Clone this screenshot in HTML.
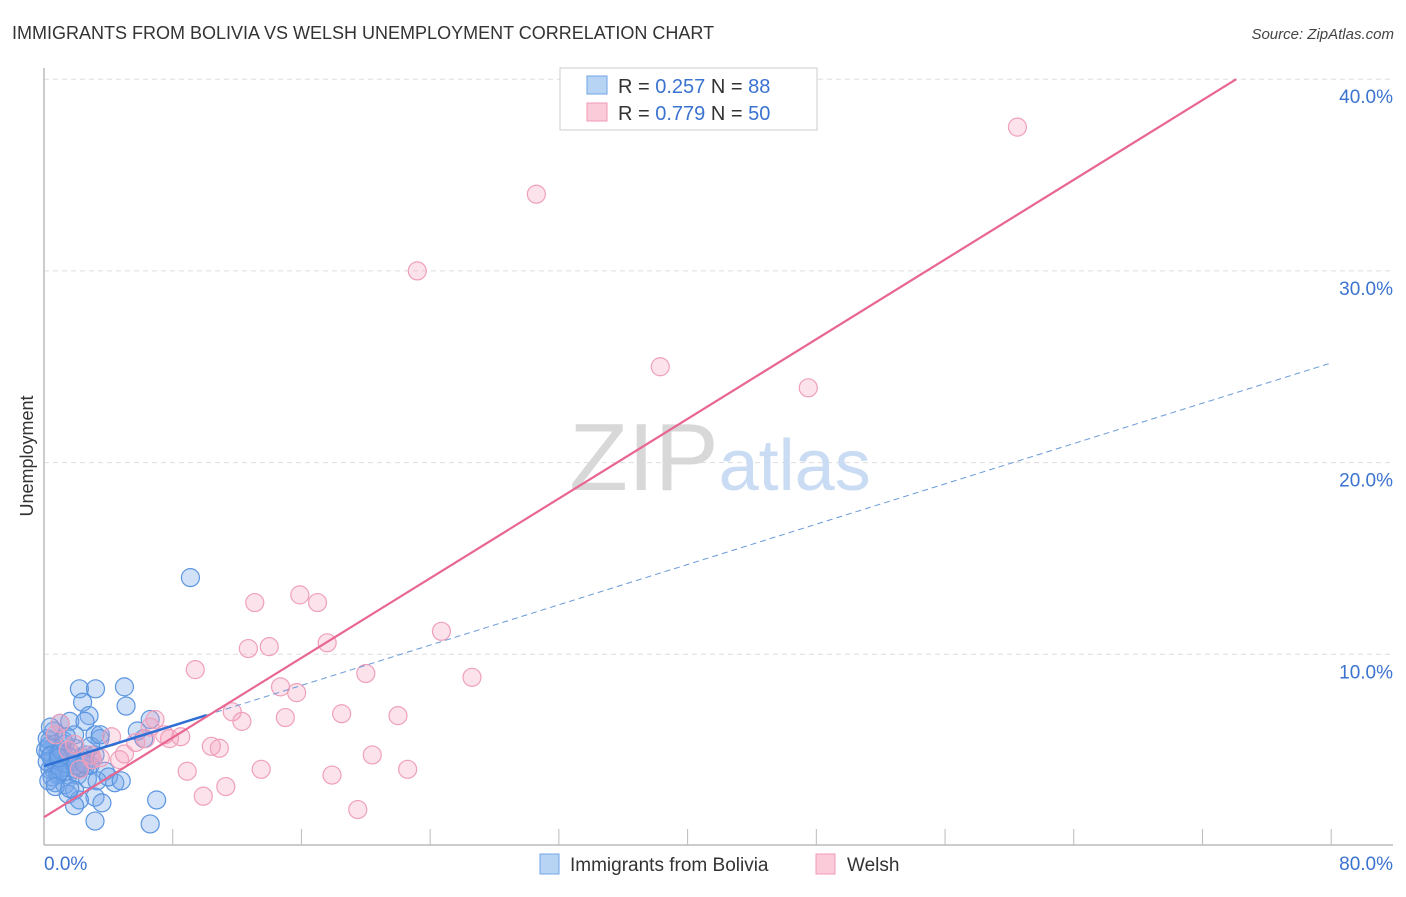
<!DOCTYPE html>
<html><head><meta charset="utf-8"><style>
body{margin:0;background:#fff;font-family:"Liberation Sans",sans-serif;}
svg text{font-family:"Liberation Sans",sans-serif;}
</style></head><body>
<svg id="chart" width="1406" height="892" xmlns="http://www.w3.org/2000/svg">
<text x="12" y="39" font-size="18" fill="#333">IMMIGRANTS FROM BOLIVIA VS WELSH UNEMPLOYMENT CORRELATION CHART</text>
<text x="1394" y="39" font-size="15" fill="#444" font-style="italic" text-anchor="end">Source: ZipAtlas.com</text>
<text transform="translate(33,456) rotate(-90)" font-size="18" fill="#333" text-anchor="middle">Unemployment</text>
<g id="grid"></g>
<text x="720" y="490" font-size="96" text-anchor="middle" fill="#ddd" font-family="Liberation Serif"><tspan fill="#d8d8d8">ZIP</tspan><tspan fill="#c9dcf3" font-family="Liberation Sans" font-size="72">atlas</tspan></text>
<g id="marks"></g>
<g>
<rect x="560" y="68" width="257" height="62" fill="#fff" stroke="#ccc"/>
<rect x="587" y="76" width="20" height="18" fill="#b8d4f5" stroke="#6fa3e6"/>
<text x="618" y="93" font-size="20" fill="#333">R = <tspan fill="#3b73d0">0.257</tspan>   N = <tspan fill="#3b73d0">88</tspan></text>
<rect x="587" y="103" width="20" height="18" fill="#fbcbd9" stroke="#f09ab6"/>
<text x="618" y="120" font-size="20" fill="#333">R = <tspan fill="#3b73d0">0.779</tspan>   N = <tspan fill="#3b73d0">50</tspan></text>
</g>
<g>
<rect x="540" y="854" width="19" height="20" fill="#b8d4f5" stroke="#6fa3e6"/>
<text x="570" y="871" font-size="19" fill="#333">Immigrants from Bolivia</text>
<rect x="816" y="854" width="19" height="20" fill="#fbcbd9" stroke="#f09ab6"/>
<text x="847" y="871" font-size="19" fill="#333">Welsh</text>
</g>
</svg>
<script>
const yTicks=[10,20,30,40];
const yTickLabels=["10.0%","20.0%","30.0%","40.0%"];
const xTickLabels=["0.0%","80.0%"];
const boliviaX=[9.1,2.2,3.2,5.0,2.4,5.1,2.8,6.6,1.0,1.6,2.55,1.9,3.17,3.48,0.37,0.68,1.3,1.9,0.25,1.0,1.6,2.55,3.17,0.5,1.1,1.7,2.3,2.86,3.8,0.37,0.85,1.5,2.1,2.7,3.3,4.4,0.7,1.3,1.9,1.5,3.17,2.2,3.6,1.9,7.0,3.17,6.6,1.0,0.1,1.3,0.2,0.5,0.8,1.2,1.8,2.4,0.3,0.6,0.9,1.4,2.0,2.6,3.0,4.0,0.2,0.4,0.9,1.1,1.7,2.3,2.9,0.5,1.0,1.5,0.3,0.7,1.2,3.5,4.8,0.6,1.4,2.0,0.4,2.5,6.2,5.8,1.6,0.9];
const boliviaY=[14.0,8.2,8.2,8.3,7.5,7.3,6.8,6.6,6.4,6.5,6.5,5.8,5.8,5.6,5.5,5.3,5.3,5.1,4.9,4.9,4.9,4.75,4.75,4.5,4.5,4.4,4.4,4.2,3.9,4.0,3.7,3.7,3.7,3.5,3.4,3.3,3.3,3.2,2.9,2.7,2.55,2.4,2.25,2.1,2.4,1.3,1.15,4.2,5.0,4.6,5.6,4.8,4.3,4.1,4.4,4.6,5.2,4.0,3.8,4.3,4.0,4.2,4.5,3.6,4.4,4.7,4.8,5.0,4.6,4.1,5.2,3.6,3.9,4.7,3.4,3.1,5.5,5.8,3.4,6.0,5.7,4.2,6.2,4.3,5.6,6.0,3.0,4.6];
const welshX=[60.5,30.6,23.2,38.3,47.5,13.1,15.9,17.0,24.7,17.6,12.7,14.0,9.4,20.0,26.6,14.7,15.7,11.7,18.5,22.0,12.3,15.0,6.9,10.4,10.9,20.4,8.9,13.5,17.9,22.6,9.9,11.3,19.5,8.5,7.8,7.5,5.7,4.2,4.7,3.5,1.0,0.7,2.9,1.9,2.2,6.6,6.3,3.0,5.0,1.5];
const welshY=[37.5,34.0,30.0,25.0,23.9,12.7,13.1,12.7,11.2,10.6,10.3,10.4,9.2,9.0,8.8,8.3,8.0,7.0,6.9,6.8,6.5,6.7,6.6,5.2,5.1,4.75,3.9,4.0,3.7,4.0,2.6,3.1,1.9,5.7,5.6,5.8,5.4,5.7,4.5,4.6,6.4,5.8,4.75,5.3,4.0,6.2,5.6,4.5,4.8,5.0];
const boliviaTrend=[0,4.17,10.1,6.95,80,25.2];
const welshTrend=[0,1.5,74.1,40];
const NS="http://www.w3.org/2000/svg";
const X=v=>44+v*16.09, Y=v=>846-v*19.17;
const grid=document.getElementById('grid'), marks=document.getElementById('marks');
function mk(p,tag,a){const e=document.createElementNS(NS,tag);for(const k in a)e.setAttribute(k,a[k]);p.appendChild(e);return e;}
yTicks.forEach((t,i)=>{
 const l=mk(grid,'line',{x1:44,x2:1393,y1:Y(t),y2:Y(t),stroke:'#ddd','stroke-dasharray':'5,4'});
 
 
 const tx=mk(grid,'text',{x:1393,y:Y(t)+24,'font-size':19,fill:'#3b73d0','text-anchor':'end'});tx.textContent=yTickLabels[i];
 
 
});
const ax=mk(grid,'line',{x1:44,x2:1393,y1:845,y2:845,stroke:'#bbb','stroke-width':1.5});


const ay=mk(grid,'line',{x1:44,x2:44,y1:68,y2:845,stroke:'#bbb','stroke-width':1.5});


for(let i=1;i<=10;i++){const t=mk(grid,'line',{x1:X(i*8),x2:X(i*8),y1:829,y2:845,stroke:'#bbb'});
 
 }
[[xTickLabels[0],44,'start'],[xTickLabels[1],1393,'end']].forEach(([s,x,a])=>{const t=mk(grid,'text',{x:x,y:870,'font-size':19,fill:'#3b73d0','text-anchor':a});t.textContent=s;
 
 });
boliviaX.forEach((v,i)=>{const c=mk(marks,'circle',{cx:X(v),cy:Y(boliviaY[i]),r:9,fill:'rgba(120,170,235,0.35)',stroke:'#5b95e0','stroke-width':1.2});
 
 });
welshX.forEach((v,i)=>{const c=mk(marks,'circle',{cx:X(v),cy:Y(welshY[i]),r:9,fill:'rgba(245,160,190,0.3)',stroke:'#efa0ba','stroke-width':1.2});
 
 });
const b=boliviaTrend;
const bs=mk(marks,'line',{x1:X(b[0]),y1:Y(b[1]),x2:X(b[2]),y2:Y(b[1]+(b[5]-b[1])*b[2]/b[4]),stroke:'#2e6fd6','stroke-width':2.5});


const bd=mk(marks,'line',{x1:X(b[2]),y1:Y(b[1]+(b[5]-b[1])*b[2]/b[4]),x2:X(b[4]),y2:Y(b[5]),stroke:'#6a9ad8','stroke-width':1,'stroke-dasharray':'6,4'});


const w=welshTrend;
const wl=mk(marks,'line',{x1:X(w[0]),y1:Y(w[1]),x2:X(w[2]),y2:Y(w[3]),stroke:'#e8668f','stroke-width':2.2});


</script>
</body></html>
